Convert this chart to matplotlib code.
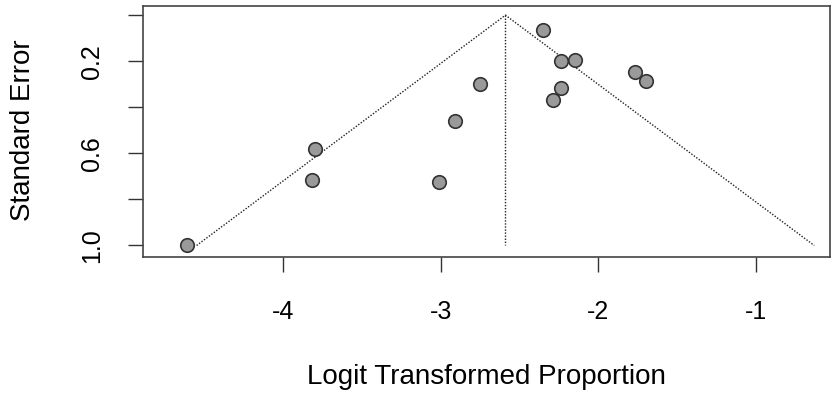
import numpy as np
import matplotlib
matplotlib.use("Agg")
import matplotlib.pyplot as plt

plt.rcParams['font.family'] = ['Liberation Sans', 'DejaVu Sans']

# logit transformed proportions and their standard errors
logit_prop = [-4.61, -3.80, -3.82, -3.01, -2.91, -2.75, -2.35,
              -2.24, -2.15, -2.24, -2.29, -1.77, -1.70]
std_err = [1.00, 0.58, 0.715, 0.725, 0.46, 0.30, 0.065,
           0.197, 0.193, 0.315, 0.37, 0.246, 0.288]
pooled = -2.59
se_max = 1.0
z = 1.96

fig = plt.figure(figsize=(8.35, 3.96), dpi=100)
ax = fig.add_axes([0.1713, 0.351, 0.8227, 0.634])

# funnel
se_line = np.array([0.0, se_max])
ax.plot([pooled - z * se_max, pooled, pooled + z * se_max], [se_max, 0, se_max],
        ls=(0, (1, 1.2)), color='#222222', lw=1.0)
ax.plot([pooled, pooled], se_line, ls=(0, (1, 1.2)), color='#222222', lw=1.0)

ax.scatter(logit_prop, std_err, s=95, c='#9a9a9a', edgecolors='#333333',
           linewidths=1.2, zorder=3)

ax.set_xlim(-4.89, -0.53)
ax.set_ylim(1.05, -0.04)
ax.set_xticks([-4, -3, -2, -1])
ax.set_xticklabels(['-4', '-3', '-2', '-1'])
ax.set_yticks([0.0, 0.2, 0.4, 0.6, 0.8, 1.0])
ax.set_yticklabels(['', '0.2', '', '0.6', '', '1.0'], rotation=90, va='center')

ax.tick_params(axis='x', length=11, width=1, pad=20, labelsize=18, color='#333333')
ax.tick_params(axis='y', length=11, width=1, pad=17, labelsize=18, color='#333333')
for sp in ax.spines.values():
    sp.set_linewidth(1.2)
    sp.set_color('#444444')

fig.text(0.5 * (143 + 830) / 835, 1 - 377 / 396, 'Logit Transformed Proportion',
         ha='center', va='center', fontsize=20)
fig.text(23 / 835, 1 - 130 / 396, 'Standard Error', ha='center', va='center',
         rotation=90, fontsize=20)

fig.savefig('out.png', dpi=100)
